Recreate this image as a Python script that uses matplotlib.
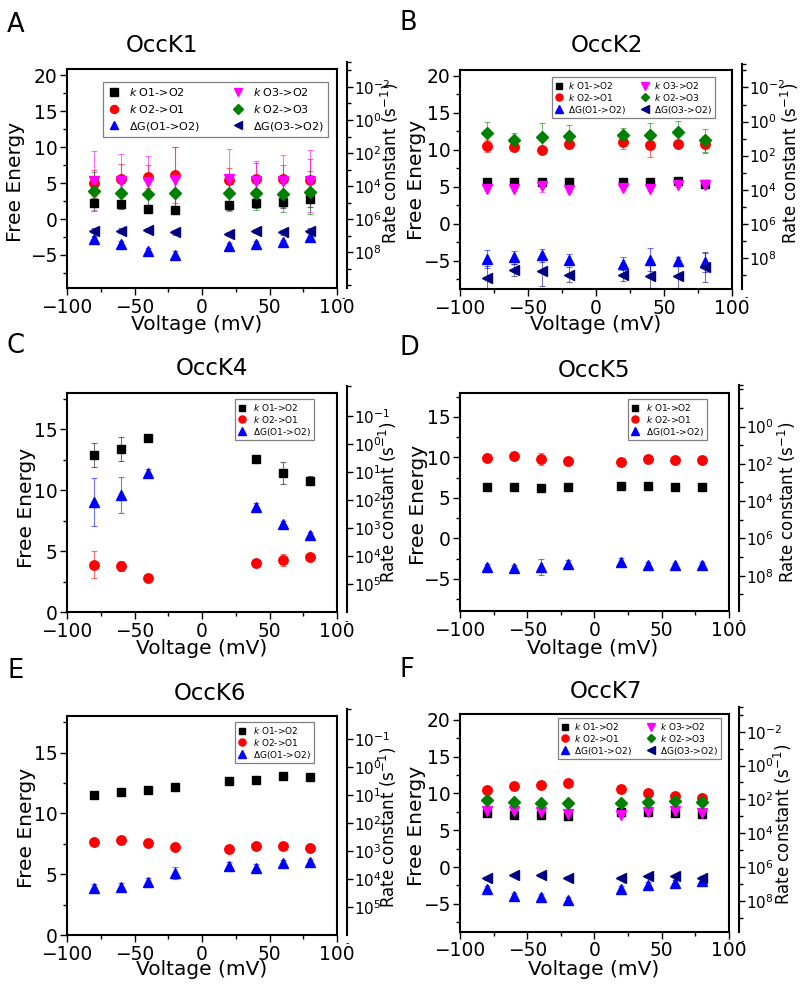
import numpy as np
import matplotlib.pyplot as plt

plt.rcParams['font.family'] = ['DejaVu Sans']
plt.rcParams['mathtext.fontset'] = 'dejavusans'

W, H = 800, 988

# tensiones (mV)
volt = [-80, -60, -40, -20, 20, 40, 60, 80]
volt_c = [-80, -60, -40, 40, 60, 80]

# OccK1
a_k12 = [2.3, 2.1, 1.4, 1.3, 1.9, 2.2, 2.4, 2.8]
a_k12_e = [0.6, 0.6, 0.5, 0.5, 0.6, 0.7, 0.8, 1.1]
a_k21 = [5.0, 5.6, 5.9, 6.2, 5.5, 5.6, 5.6, 5.5]
a_k21_e = [1.8, 2.0, 1.6, 3.9, 1.6, 2.2, 1.9, 2.9]
a_k32 = [5.35, 5.25, 5.15, 5.4, 5.55, 5.25, 5.3, 5.3]
a_k32_e = [4.1, 3.8, 3.6, 4.7, 4.2, 2.8, 3.6, 4.3]
a_k23 = [3.85, 3.7, 3.55, 3.6, 3.6, 3.6, 3.55, 3.75]
a_k23_e = [2.7, 2.3, 2.0, 2.3, 2.5, 2.3, 2.6, 3.0]
a_dg12 = [-2.8, -3.45, -4.4, -4.95, -3.7, -3.45, -3.25, -2.5]
a_dg12_e = [0.4, 0.4, 0.4, 0.5, 0.4, 0.4, 0.4, 0.5]
a_dg32 = [-1.6, -1.6, -1.55, -1.85, -2.05, -1.65, -1.85, -1.6]
a_dg32_e = [0.3, 0.3, 0.3, 0.3, 0.3, 0.3, 0.3, 0.3]

# OccK2
b_k12 = [5.6, 5.6, 5.6, 5.6, 5.6, 5.6, 5.7, 5.35]
b_k12_e = [0.2, 0.2, 0.2, 0.2, 0.2, 0.2, 0.2, 0.2]
b_k21 = [10.45, 10.35, 10.0, 10.7, 11.05, 10.6, 10.8, 10.7]
b_k21_e = [0.8, 0.5, 0.3, 0.5, 0.9, 1.6, 0.4, 1.2]
b_k32 = [4.7, 4.7, 5.05, 4.6, 4.8, 4.75, 5.25, 5.25]
b_k32_e = [0.3, 0.3, 0.8, 0.3, 0.3, 0.3, 0.3, 0.3]
b_k23 = [12.25, 11.25, 11.65, 11.8, 11.95, 11.95, 12.4, 11.25]
b_k23_e = [1.45, 1.0, 2.0, 1.5, 1.0, 1.6, 1.5, 1.6]
b_dg12 = [-4.75, -4.55, -4.3, -4.85, -5.4, -4.85, -5.1, -5.2]
b_dg12_e = [1.2, 0.9, 0.9, 0.7, 0.9, 1.5, 0.6, 1.3]
b_dg32 = [-7.35, -6.3, -6.45, -6.9, -6.9, -7.05, -7.1, -5.85]
b_dg32_e = [1.6, 0.8, 2.0, 1.0, 0.9, 1.6, 1.6, 2.0]

# OccK4
c_k12 = [12.9, 13.4, 14.25, 12.6, 11.4, 10.8]
c_k12_e = [0.95, 1.0, 0.2, 0.2, 0.9, 0.4]
c_k21 = [3.9, 3.8, 2.85, 4.05, 4.3, 4.55]
c_k21_e = [1.1, 0.4, 0.1, 0.2, 0.5, 0.2]
c_dg12 = [9.05, 9.6, 11.45, 8.65, 7.2, 6.3]
c_dg12_e = [1.95, 1.5, 0.3, 0.3, 0.3, 0.3]

# OccK5
d_k12 = [6.3, 6.38, 6.17, 6.3, 6.46, 6.42, 6.3, 6.3]
d_k12_e = [0.1, 0.1, 0.1, 0.1, 0.1, 0.1, 0.1, 0.1]
d_k21 = [9.88, 10.16, 9.79, 9.59, 9.47, 9.79, 9.67, 9.67]
d_k21_e = [0.1, 0.1, 0.8, 0.5, 0.1, 0.1, 0.1, 0.1]
d_dg12 = [-3.5, -3.7, -3.58, -3.21, -2.88, -3.29, -3.29, -3.29]
d_dg12_e = [0.3, 0.4, 1.0, 0.5, 0.4, 0.4, 0.3, 0.4]

# OccK6
e_k12 = [11.5, 11.73, 11.92, 12.14, 12.66, 12.77, 13.07, 13.01]
e_k12_e = [0.1, 0.1, 0.1, 0.1, 0.1, 0.1, 0.1, 0.1]
e_k21 = [7.67, 7.78, 7.59, 7.21, 7.04, 7.34, 7.32, 7.18]
e_k21_e = [0.1, 0.1, 0.1, 0.1, 0.1, 0.1, 0.1, 0.1]
e_dg12 = [3.89, 3.97, 4.38, 5.07, 5.67, 5.53, 5.89, 5.97]
e_dg12_e = [0.3, 0.3, 0.3, 0.5, 0.3, 0.3, 0.3, 0.3]

# OccK7
f_k12 = [7.3, 7.07, 7.07, 6.98, 7.53, 7.44, 7.3, 7.17]
f_k12_e = [0.2, 0.2, 0.2, 0.2, 0.2, 0.2, 0.2, 0.2]
f_k21 = [10.48, 11.07, 11.16, 11.47, 10.66, 10.02, 9.66, 9.43]
f_k21_e = [0.2, 0.2, 0.2, 0.2, 0.2, 0.2, 0.2, 0.2]
f_k32 = [7.62, 7.66, 7.53, 7.21, 7.07, 7.53, 7.62, 7.3]
f_k32_e = [0.2, 0.2, 0.2, 0.2, 0.3, 0.2, 0.2, 0.2]
f_k23 = [9.12, 8.89, 8.66, 8.66, 8.66, 8.8, 8.98, 8.89]
f_k23_e = [0.2, 0.2, 0.2, 0.2, 0.2, 0.2, 0.2, 0.2]
f_dg12 = [-3.04, -3.95, -4.13, -4.49, -3.04, -2.45, -2.13, -1.9]
f_dg12_e = [0.4, 0.4, 0.4, 0.4, 0.4, 0.4, 0.4, 0.4]
f_dg32 = [-1.54, -1.09, -1.13, -1.45, -1.45, -1.22, -1.22, -1.45]
f_dg32_e = [0.2, 0.2, 0.2, 0.2, 0.2, 0.2, 0.2, 0.2]

# estilo de cada serie
estilos = {
    'k12': dict(marker='s', color='#000000', ms=6.0, label='$k$ O1->O2'),
    'k21': dict(marker='o', color='#ff0000', ms=6.8, label='$k$ O2->O1'),
    'dg12': dict(marker='^', color='#0000ff', ms=7.5, label=r'$\Delta$G(O1->O2)'),
    'k32': dict(marker='v', color='#ff00ff', ms=7.5, label='$k$ O3->O2'),
    'k23': dict(marker='D', color='#008000', ms=5.8, label='$k$ O2->O3'),
    'dg32': dict(marker='<', color='#000080', ms=7.5, label=r'$\Delta$G(O3->O2)'),
}

# relación energía libre <-> constante de velocidad
C0 = 13.8
LN10 = np.log(10)

fig = plt.figure(figsize=(W / 100, H / 100), dpi=100)


def px_rect(l, t, r, b):
    return [l / W, 1 - b / H, (r - l) / W, (b - t) / H]


def panel(geom, ylim, yticks, series, xs, exps_lab, exps_all, leg_xy, leg_kw,
          letra, titulo, pos_letra, pos_titulo, pos_fe, pos_rate, pos_volt, pos_resto):
    l, t, r, b = geom
    ax = fig.add_axes(px_rect(l, t, r, b))
    ppu = (b - t) / (ylim[1] - ylim[0])

    handles = []
    for key, y, err in series:
        st = estilos[key]
        ax.errorbar(xs, y, yerr=err, fmt='none', ecolor=st['color'], alpha=0.55,
                    elinewidth=0.8, capsize=2, capthick=0.8, zorder=2)
    for key, y, err in series:
        st = estilos[key]
        h, = ax.plot(xs, y, ls='none', marker=st['marker'], ms=st['ms'], color=st['color'],
                     mec=st['color'], label=st['label'], zorder=3)
        handles.append(h)

    ax.set_xticks([-100, -50, 0, 50, 100])
    ax.set_xticks([-75, -25, 25, 75], minor=True)
    ax.set_yticks(yticks)
    menores = [v for v in np.arange(yticks[0] - 2.5, ylim[1], 5) if v > ylim[0]]
    ax.set_yticks(menores, minor=True)
    ax.set_xlim(-100, 100)
    ax.set_ylim(*ylim)
    ax.tick_params(which='both', direction='out', width=1.0, labelsize=13.4, pad=2)
    ax.tick_params(which='major', length=5)
    ax.tick_params(which='minor', length=3)
    for sp in ax.spines.values():
        sp.set_linewidth(1.5)

    leg = ax.legend(handles=handles, loc='upper left', bbox_to_anchor=(leg_xy[0] / W, 1 - leg_xy[1] / H),
                    bbox_transform=fig.transFigure, fancybox=False, framealpha=1,
                    edgecolor='#808080', borderaxespad=0, **leg_kw)
    leg.get_frame().set_linewidth(0.9)

    # eje derecho de constantes de velocidad
    ext = 7
    rax = fig.add_axes(px_rect(l, t - ext, r, b))
    rax.patch.set_visible(False)
    rlim = (ylim[0], ylim[1] + ext / ppu)
    rax.set_xticks([])
    for s in ['left', 'top', 'bottom']:
        rax.spines[s].set_visible(False)
    rax.spines['right'].set_position(('outward', 7))
    rax.spines['right'].set_linewidth(1.5)
    rax.yaxis.tick_right()
    rax.set_yticks([C0 - LN10 * e for e in exps_lab])
    rax.set_yticklabels([r'$10^{%d}$' % e for e in exps_lab])
    otros = [C0 - LN10 * e for e in exps_all if e not in exps_lab]
    otros = [v for v in otros if rlim[0] <= v <= rlim[1] - 0.3] + [rlim[1]]
    rax.set_yticks(otros, minor=True)
    rax.set_ylim(*rlim)
    rax.tick_params(which='both', direction='out', width=1.0, labelsize=11, pad=1)
    rax.tick_params(which='major', length=4)
    rax.tick_params(which='minor', length=3)

    fig.text(pos_letra[0] / W, 1 - pos_letra[1] / H, letra, fontsize=18.5, ha='left', va='baseline')
    fig.text(pos_titulo[0] / W, 1 - pos_titulo[1] / H, titulo, fontsize=16.5, ha='center', va='baseline')
    fig.text(pos_fe[0] / W, 1 - pos_fe[1] / H, 'Free Energy', fontsize=14.5, rotation=90,
             ha='center', va='center')
    fig.text(pos_rate[0] / W, 1 - pos_rate[1] / H, 'Rate constant (s$^{-1}$)', fontsize=12,
             rotation=90, ha='center', va='center')
    fig.text(pos_volt[0] / W, 1 - pos_volt[1] / H, 'Voltage (mV)', fontsize=14.5,
             ha='center', va='baseline')
    # resto recortado de la etiqueta inferior del eje derecho
    fig.text(pos_resto[0] / W, 1 - pos_resto[1] / H, '-', fontsize=7, ha='left', va='center')
    return ax


leg6 = dict(ncol=2, fontsize=6.5, handlelength=1.0, handletextpad=0.5, columnspacing=1.6,
            labelspacing=0.1, borderpad=0.3, markerscale=0.75)
leg6a = dict(ncol=2, fontsize=8, handlelength=1.2, handletextpad=0.8, columnspacing=2.8,
             labelspacing=0.45, borderpad=0.35, markerscale=0.85)
leg3 = dict(ncol=1, fontsize=6.5, handlelength=1.0, handletextpad=0.7,
            labelspacing=0.1, borderpad=0.3, markerscale=0.75)

panel((67, 69, 337, 288), (-9.6, 20.9), [-5, 0, 5, 10, 15, 20],
      [('k12', a_k12, a_k12_e), ('k21', a_k21, a_k21_e), ('dg12', a_dg12, a_dg12_e),
       ('k32', a_k32, a_k32_e), ('k23', a_k23, a_k23_e), ('dg32', a_dg32, a_dg32_e)],
      volt, [-2, 0, 2, 4, 6, 8], list(range(-3, 11)), (103, 82), leg6a,
      'A', 'OccK1', (7, 32), (162, 52), (16, 182), (390, 163), (197, 330), (342, 298))

panel((460, 70.5, 732, 288.8), (-8.8, 20.7), [-5, 0, 5, 10, 15, 20],
      [('k12', b_k12, b_k12_e), ('k21', b_k21, b_k21_e), ('dg12', b_dg12, b_dg12_e),
       ('k32', b_k32, b_k32_e), ('k23', b_k23, b_k23_e), ('dg32', b_dg32, b_dg32_e)],
      volt, [-2, 0, 2, 4, 6, 8], list(range(-3, 11)), (552, 77), leg6,
      'B', 'OccK2', (400, 30), (607, 52), (417, 180), (790, 163), (596, 330), (745, 297))

panel((67, 392.7, 337, 612.3), (0, 18), [0, 5, 10, 15],
      [('k12', c_k12, c_k12_e), ('k21', c_k21, c_k21_e), ('dg12', c_dg12, c_dg12_e)],
      volt_c, [-1, 0, 1, 2, 3, 4, 5], list(range(-2, 7)), (235, 399), leg3,
      'C', 'OccK4', (7, 353), (212, 375), (26, 508), (388, 502), (202, 654), (345, 621))

panel((460, 392.5, 729, 611.2), (-9, 18), [-5, 0, 5, 10, 15],
      [('k12', d_k12, d_k12_e), ('k21', d_k21, d_k21_e), ('dg12', d_dg12, d_dg12_e)],
      volt, [0, 2, 4, 6, 8], list(range(-2, 10)), (628, 399), leg3,
      'D', 'OccK5', (400, 355), (594, 377), (418, 505), (787, 502), (593, 654), (739, 620))

panel((67, 716, 337, 935), (0, 18), [0, 5, 10, 15],
      [('k12', e_k12, e_k12_e), ('k21', e_k21, e_k21_e), ('dg12', e_dg12, e_dg12_e)],
      volt, [-1, 0, 1, 2, 3, 4, 5], list(range(-2, 7)), (235, 722), leg3,
      'E', 'OccK6', (8, 678), (210, 700), (26, 828), (388, 827), (202, 975), (346, 943))

panel((460, 714.1, 729, 931.7), (-8.8, 20.8), [-5, 0, 5, 10, 15, 20],
      [('k12', f_k12, f_k12_e), ('k21', f_k21, f_k21_e), ('dg12', f_dg12, f_dg12_e),
       ('k32', f_k32, f_k32_e), ('k23', f_k23, f_k23_e), ('dg32', f_dg32, f_dg32_e)],
      volt, [-2, 0, 2, 4, 6, 8], list(range(-3, 11)), (558, 718), leg6,
      'F', 'OccK7', (400, 677), (606, 698), (417, 826), (783, 824), (594, 975), (741, 941))

fig.savefig('out.png', dpi=100)
